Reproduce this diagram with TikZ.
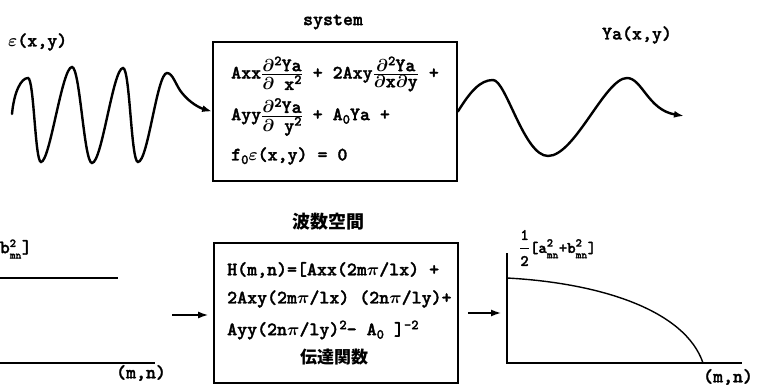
\documentclass[tikz,border=0pt]{standalone}
\usepackage{fontspec}
\usepackage{amsmath}
\newfontfamily\tw{lmmonolt10-bold.otf}[FakeBold=1.6]
\newfontfamily\cjk{Noto Sans CJK JP}
\usetikzlibrary{arrows.meta}
\newcommand\spx[1]{\raisebox{6pt}{\fontsize{14}{14}\selectfont #1}}
\newcommand\sbx[1]{\raisebox{-3.5pt}{\fontsize{14}{14}\selectfont #1}}
\newcommand\pfr[2]{$\frac{\hbox{#1}}{\hbox{#2}}$}
\newcommand\supsub[2]{$^{\hbox{\fontsize{12}{12}\selectfont #1}}_{\hbox{\fontsize{11}{11}\selectfont #2}}$}
\newcommand\pd{$\partial$}
\newcommand\ppi{$\pi$}
\newcommand\eps{$\varepsilon$}
\begin{document}
\begin{tikzpicture}[x=1pt,y=-1pt,
  font=\tw\fontsize{19}{21}\selectfont\boldmath,
  box/.style={draw,line width=1.8pt,inner sep=0pt},
  eq/.style={anchor=west,inner sep=0pt},
  lbl/.style={inner sep=0pt},
  jp/.style={inner sep=0pt,font=\cjk\bfseries\fontsize{17}{19}\selectfont},
  wave/.style={line width=2.4pt,line cap=round},
  tip/.style={-{Latex[length=10pt,width=7pt]}},
  ax/.style={line width=1.4pt}]
\useasboundingbox (0,0) rectangle (761,385);
\clip (0,0) rectangle (761,385);
% top system box
\node[box,minimum width=244pt,minimum height=139pt] (sys) at (335,111.5) {};
\node[lbl] (systxt) at (333,22) {system};
\node[eq] (e1) at (231,74) {Axx\pfr{\pd\spx{2}Ya}{\pd\ x\spx{2}} + 2Axy\pfr{\pd\spx{2}Ya}{\pd x\pd y} +};
\node[eq] (e2) at (231,117) {Ayy\pfr{\pd\spx{2}Ya}{\pd\ y\spx{2}} + A\sbx{0}Ya +};
\node[eq] (e3) at (231,156) {f\sbx{0}\eps(x,y) = 0};
\node[lbl,anchor=west] (epsl) at (8,42) {\eps(x,y)};
\node[lbl] (ya) at (637,35) {Ya(x,y)};
% input wave
\draw[wave,tip] (12,114) .. controls (14,92) and (21,78) .. (28,78)
  .. controls (34,78) and (35,162) .. (41,162)
  .. controls (50,162) and (62,67) .. (72,67)
  .. controls (80,67) and (84,163) .. (92,163)
  .. controls (102,163) and (113,68) .. (123,68)
  .. controls (130,68) and (131,162) .. (138,162)
  .. controls (148,162) and (157,73) .. (167,73)
  .. controls (173,73) and (176,86) .. (182,93)
  .. controls (190,103) and (200,108) .. (sys.west);
% output wave
\coordinate (wend) at (684,116);
\draw[wave,tip] (sys.east) .. controls (470,92) and (480,80) .. (493,80)
  .. controls (506,80) and (524,156) .. (548,156)
  .. controls (575,156) and (605,78) .. (627,78)
  .. controls (642,78) and (648,110) .. (wend);
% bottom box
\node[box,minimum width=244pt,minimum height=140pt] (hbox) at (336,313) {};
\node[jp,font=\cjk\bfseries\fontsize{18}{20}\selectfont] (wave) at (328,222) {波数空間};
\node[eq] (h1) at (227,270) {H(m,n)=[Axx(2m\ppi/lx) +};
\node[eq] (h2) at (227,299) {2Axy(2m\ppi/lx) (2n\ppi/ly)+};
\node[eq] (h3) at (227,330) {Ayy(2n\ppi/ly)\spx{2}– A\sbx{0} ]\spx{-2}};
\node[jp] (tf) at (334,357) {伝達関数};
% left (clipped) graph
\coordinate (l1a) at (0,278); \coordinate (l1b) at (118,278);
\coordinate (l2a) at (0,363); \coordinate (l2b) at (155,363);
\draw[ax] (l1a) -- (l1b);
\draw[ax] (l2a) -- (l2b);
\node[lbl,anchor=east] (llab) at (32,249) {+b\supsub{2}{mn}]};
\node[lbl] (lmn) at (141,373) {(m,n)};
% arrows between
\coordinate (ain) at (172,315);
\draw[ax,tip,shorten >=5pt] (ain) -- (ain -| hbox.west);
\coordinate (aout) at (501,313);
\draw[ax,tip,shorten <=9pt] (aout -| hbox.east) -- (aout);
% right graph
\coordinate (o) at (507,363);
\coordinate (ytop) at (507,253);
\coordinate (xend) at (742,363);
\coordinate (c0) at (507,278);
\coordinate (c1) at (703,363);
\draw[ax] (ytop) -- (o) -- (xend);
\draw[ax] (c0) .. controls (600,283) and (685,310) .. (c1);
\node[lbl,anchor=west] (rlab) at (519,248) {\fontsize{16}{18}\selectfont$\displaystyle\frac{\hbox{1}}{\hbox{2}}$[a\supsub{2}{mn}+b\supsub{2}{mn}]};
\node[lbl] (rmn) at (728,377) {(m,n)};
\end{tikzpicture}
\end{document}
